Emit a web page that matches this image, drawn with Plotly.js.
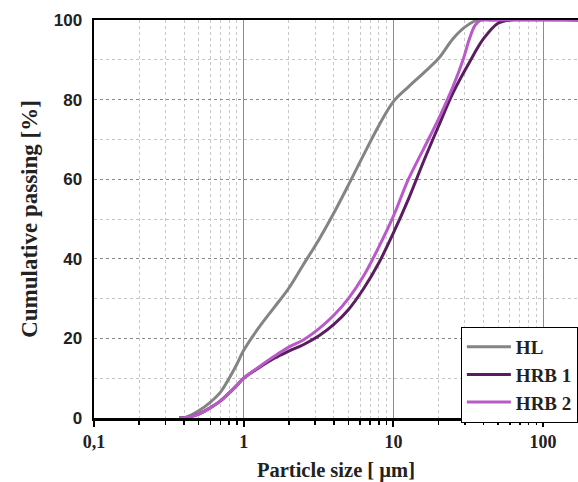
<!DOCTYPE html>
<html>
<head>
<meta charset="utf-8">
<script src="https://cdn.plot.ly/plotly-3.0.1.min.js"></script>
<style>html,body{margin:0;padding:0;background:#fff;}#chart{width:578px;height:482px;}</style>
</head>
<body>
<div id="chart"></div>
<script>
// Particle size [µm] and cumulative passing [%]
const hlSize = [0.37, 0.42, 0.5, 0.6, 0.7, 0.8, 0.9, 1.0, 1.25, 1.6, 2.0, 2.5, 3.2, 4.0, 5.0, 6.3, 8.0, 10, 12.6, 16, 20, 25, 30, 36, 45, 171];
const hlPass = [0, 0.3, 1.8, 4, 6.5, 10, 13.5, 17, 22.5, 27.8, 32.6, 38.5, 45, 51.5, 58.5, 66, 73.5, 79.5, 83.2, 86.8, 90.3, 95.3, 98.2, 99.9, 100, 100];

const hrb1Size = [0.37, 0.42, 0.5, 0.6, 0.7, 0.8, 0.9, 1.0, 1.25, 1.6, 2.0, 2.5, 3.2, 4.0, 5.0, 6.3, 8.0, 10, 12.6, 16, 20, 25, 32, 40, 50, 60, 171];
const hrb1Pass = [0, 0.2, 1.0, 2.6, 4.3, 6.3, 8.2, 10, 12.5, 15, 16.8, 18.4, 20.7, 23.5, 27.2, 32.4, 39, 46.5, 55, 64.7, 73.3, 81.7, 89.2, 95.3, 99.2, 100, 100];

const hrb2Size = [0.37, 0.42, 0.5, 0.6, 0.7, 0.8, 0.9, 1.0, 1.25, 1.6, 2.0, 2.5, 3.2, 4.0, 5.0, 6.3, 8.0, 10, 12.6, 16, 20, 25, 29.2, 32, 35, 38, 45, 171];
const hrb2Pass = [0, 0.2, 1.0, 2.6, 4.3, 6.3, 8.2, 10, 12.7, 15.5, 17.8, 19.6, 22.5, 25.8, 30, 35.6, 43, 50.7, 60, 67.8, 75.1, 83.3, 90, 95, 98.6, 99.9, 100, 100];

const seriesNames = ['HL', 'HRB 1', 'HRB 2'];
const xTickVals = [0.1, 1, 10, 100];
const xTickText = ['0,1', '1', '10', '100'];
const yTickVals = [0, 20, 40, 60, 80, 100];

const minorX = [];
[0.1, 1, 10, 100].forEach(d => { for (let k = 2; k <= 9; k++) minorX.push(d * k); });

const colors = ['#848484', '#5a1e60', '#b95ac8'];
const sizes = [hlSize, hrb1Size, hrb2Size];
const passes = [hlPass, hrb1Pass, hrb2Pass];

const traces = seriesNames.map((n, i) => ({
  x: sizes[i], y: passes[i], name: n, type: 'scatter', mode: 'lines',
  line: {color: colors[i], width: 3, shape: 'spline', smoothing: 1},
  hoverinfo: 'skip'
}));

const times = '"Liberation Serif", "Times New Roman", serif';
const arial = '"Liberation Sans", Arial, sans-serif';

const layout = {
  width: 578, height: 482,
  margin: {l: 94, r: 0, t: 20, b: 64, pad: 0, autoexpand: false},
  paper_bgcolor: '#fff', plot_bgcolor: '#fff',
  showlegend: true,
  xaxis: {
    type: 'log', range: [-1, Math.log10(171)], autorange: false, automargin: false,
    tickvals: xTickVals, ticktext: xTickText,
    ticks: 'outside', ticklen: 6, tickwidth: 2, tickcolor: '#000',
    showline: true, linecolor: '#000', linewidth: 2.5, mirror: true,
    showgrid: true, gridcolor: '#8c8c8c', gridwidth: 1,
    tickfont: {family: times, size: 18, color: '#222', weight: 'bold'},
    minor: {tickvals: minorX, ticks: 'outside', ticklen: 4, tickwidth: 1.5, tickcolor: '#000',
            showgrid: true, gridcolor: '#c8c8c8', griddash: 'dot', gridwidth: 1},
    title: {text: 'Particle size [ µm]', font: {family: times, size: 20.5, color: '#222', weight: 'bold'}, standoff: 16},
    zeroline: false
  },
  yaxis: {
    range: [0, 100], autorange: false, automargin: false,
    tickvals: yTickVals, ticks: '', ticklabelstandoff: 6,
    showline: true, linecolor: '#000', linewidth: 2.5, mirror: false,
    showgrid: true, gridcolor: '#8a8a8a', griddash: 'dot', gridwidth: 1,
    tickfont: {family: arial, size: 17, color: '#222', weight: 'bold'},
    minor: {dtick: 10, showgrid: true, gridcolor: '#c4c4c4', griddash: 'dot', gridwidth: 1, ticks: ''},
    title: {text: 'Cumulative passing [%]', font: {family: times, size: 23, color: '#222', weight: 'bold'}, standoff: 10},
    zeroline: false
  },
  legend: {
    x: 0.758, xanchor: 'left', y: 0.229, yanchor: 'top',
    bgcolor: '#fff', bordercolor: '#000', borderwidth: 1,
    font: {family: times, size: 19, color: '#222', weight: 'bold'},
    itemwidth: 44, tracegroupgap: 0
  }
};

Plotly.newPlot('chart', traces, layout, {displayModeBar: false, staticPlot: true});
</script>
</body>
</html>
